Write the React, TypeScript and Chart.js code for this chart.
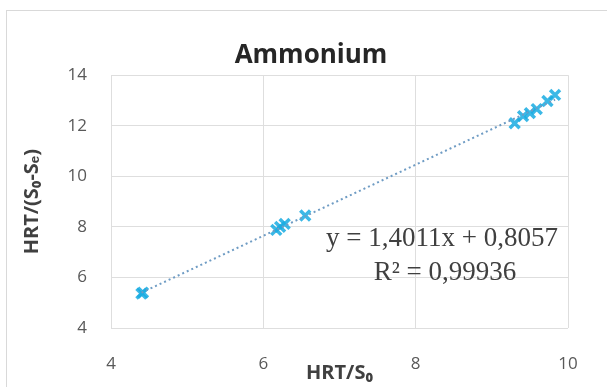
import React, { useEffect, useRef } from "react";
import { Chart, registerables } from "chart.js";

Chart.register(...registerables);

const chartTitle = "Ammonium";
const xAxisTitle = "HRT/S₀";
const yAxisTitle = "HRT/(S₀-Sₑ)";
const xValues = [4.4, 4.42, 6.17, 6.22, 6.28, 6.55, 9.3, 9.41, 9.5, 9.59, 9.73, 9.83];
const yValues = [5.36, 5.4, 7.88, 8.0, 8.12, 8.45, 12.1, 12.38, 12.5, 12.66, 12.98, 13.22];
const xTicks = [4, 6, 8, 10];
const yTicks = [4, 6, 8, 10, 12, 14];
const equationLines = ["y = 1,4011x + 0,8057", "R² = 0,99936"];

function regression(xs: number[], ys: number[]) {
  const n = xs.length;
  const mx = xs.reduce((a, b) => a + b, 0) / n;
  const my = ys.reduce((a, b) => a + b, 0) / n;
  let sxy = 0;
  let sxx = 0;
  for (let i = 0; i < n; i++) {
    sxy += (xs[i] - mx) * (ys[i] - my);
    sxx += (xs[i] - mx) * (xs[i] - mx);
  }
  const slope = sxy / sxx;
  return { slope, intercept: my - slope * mx };
}

export default function App() {
  const ref = useRef<HTMLCanvasElement | null>(null);

  useEffect(() => {
    if (!ref.current) return;
    const points = xValues.map((x, i) => ({ x, y: yValues[i] }));
    const { slope, intercept } = regression(xValues, yValues);
    const minX = Math.min(...xValues);
    const maxX = Math.max(...xValues);
    const trend = [
      { x: minX, y: slope * minX + intercept },
      { x: maxX, y: slope * maxX + intercept },
    ];

    const equationPlugin = {
      id: "equation",
      afterDraw(chart: any) {
        const ctx = chart.ctx;
        ctx.save();
        ctx.fillStyle = "#404040";
        ctx.font = "27px 'Liberation Serif', serif";
        ctx.textAlign = "center";
        ctx.textBaseline = "middle";
        ctx.fillText(equationLines[0], 442, 239);
        ctx.fillText(equationLines[1], 445, 273);
        ctx.restore();
      },
    };

    const chart = new Chart(ref.current, {
      type: "scatter",
      data: {
        datasets: [
          {
            type: "line",
            data: trend,
            borderColor: "#6f9cc4",
            borderWidth: 2,
            borderDash: [2, 3],
            pointRadius: 0,
            fill: false,
          },
          {
            data: points,
            pointStyle: "crossRot",
            pointRadius: 7,
            borderWidth: 3.5,
            borderColor: "rgba(25, 172, 226, 0.85)",
            backgroundColor: "rgba(25, 172, 226, 0.85)",
          },
        ],
      },
      options: {
        responsive: false,
        animation: false,
        layout: { padding: { left: 15, right: 0, top: 0, bottom: 0 } },
        plugins: {
          legend: { display: false },
          tooltip: { enabled: false },
          title: {
            display: true,
            text: chartTitle,
            color: "#262626",
            font: { family: "'Open Sans', sans-serif", size: 26, weight: "bold" },
            padding: { top: 40, bottom: 4 },
          },
        },
        scales: {
          x: {
            type: "linear",
            min: 4,
            max: 10,
            afterBuildTicks: (scale: any) => {
              scale.ticks = xTicks.map((v) => ({ value: v }));
            },
            afterFit: (scale: any) => {
              scale.height = 59;
            },
            grid: { color: "#dedede", drawTicks: false, lineWidth: 1 },
            border: { display: false },
            ticks: {
              color: "#595959",
              padding: 26,
              font: { family: "'Open Sans', sans-serif", size: 17 },
            },
            title: {
              display: true,
              text: xAxisTitle,
              color: "#404040",
              font: { family: "'Open Sans', sans-serif", size: 20, weight: "bold" },
              padding: { top: 0, bottom: 2 },
            },
          },
          y: {
            type: "linear",
            min: 4,
            max: 14,
            afterBuildTicks: (scale: any) => {
              scale.ticks = yTicks.map((v) => ({ value: v }));
            },
            afterFit: (scale: any) => {
              scale.width = 96;
            },
            grid: { color: "#dedede", drawTicks: false, lineWidth: 1 },
            border: { display: false },
            ticks: {
              color: "#595959",
              padding: 24,
              font: { family: "'Open Sans', sans-serif", size: 17 },
            },
            title: {
              display: true,
              text: yAxisTitle,
              color: "#404040",
              font: { family: "'Open Sans', sans-serif", size: 20, weight: "bold" },
              padding: { top: 5, bottom: 0 },
            },
          },
          yRight: {
            type: "linear",
            position: "right",
            display: true,
            afterFit: (scale: any) => {
              scale.width = 39;
            },
            grid: { display: false },
            border: { display: false },
            ticks: { display: false },
          },
        },
      },
      plugins: [equationPlugin],
    } as any);

    return () => chart.destroy();
  }, []);

  return (
    <div style={{ position: "fixed", left: 0, top: 0, width: 607, height: 387, background: "#ffffff" }}>
      <div
        style={{
          position: "absolute",
          left: 6,
          top: 10,
          width: 601,
          height: 377,
          borderTop: "1px solid #d9d9d9",
          borderLeft: "1px solid #d9d9d9",
          boxSizing: "border-box",
        }}
      />
      <canvas ref={ref} width={607} height={387} style={{ position: "absolute", left: 0, top: 0, display: "block" }} />
    </div>
  );
}
